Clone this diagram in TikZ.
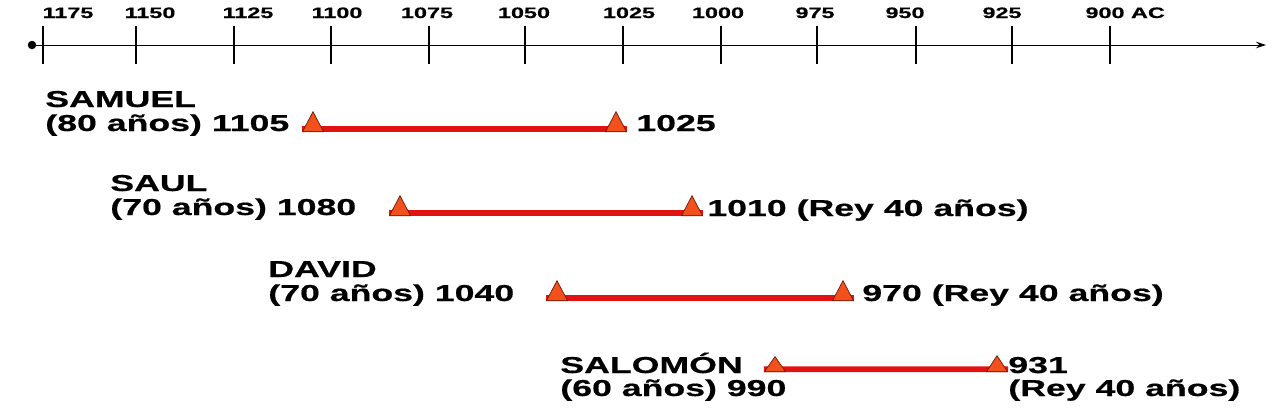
\documentclass[tikz,border=0pt]{standalone}
\usepackage{fontspec}
\setmainfont{Liberation Sans}[FakeStretch=1.55, BoldFeatures={FakeBold=0.6}]
\usepackage{tikz}
\usetikzlibrary{arrows.meta, positioning, shapes.geometric, backgrounds}

\definecolor{barred}{HTML}{E31212}
\definecolor{trifill}{HTML}{F2501C}
\definecolor{triedge}{HTML}{6E1A06}

\tikzset{
  yearlbl/.style={font=\fontsize{8.6}{10}\selectfont\bfseries, anchor=base, inner sep=0pt},
  namelbl/.style={font=\fontsize{13.1}{15}\selectfont\bfseries, anchor=base west, inner sep=0pt},
  reign/.style={isosceles triangle, shape border rotate=90, isosceles triangle stretches,
    minimum width=0.42cm, minimum height=0.4cm, inner sep=0pt, anchor=south,
    fill=trifill, draw=triedge, line width=0.4pt},
  reignbar/.style={draw=barred, line width=0.115cm},
  tick/.style={line width=1.1pt},
}

\begin{document}
\begin{tikzpicture}[x=0.02cm, y=-0.02cm]
    \useasboundingbox (0,0) rectangle (1280,416);

    % Timeline axis
    \coordinate (axL) at (32,45);
    \coordinate (axR) at (1266,45);
    \fill (axL) circle (0.085cm);
    \draw[line width=0.5pt, -{Stealth[length=0.2cm, width=0.13cm]}] (axL) -- (axR);

    % Years
    \foreach \yr/\tx/\lx in {1175/43/68, 1150/136/150, 1125/234/248, 1100/331/337,
        1075/429/427, 1050/525/524, 1025/623/629, 1000/721/718, 975/817/815,
        950/916/905, 925/1012/1002} {
        \draw[tick] (\tx,26) -- (\tx,64);
        \node[yearlbl] (yr\yr) at (\lx,18) {\yr};
    }
    \draw[tick] (1110,26) -- (1110,64);
    \node[yearlbl] (yr900) at (1105,18) {900\rlap{ AC}};

    % Samuel
    \node[namelbl] (samName) at (45,107) {SAMUEL};
    \node[namelbl] (samAge) at (45,131) {(80 años) 1105};
    \node[reign] (samA) at (313,132) {};
    \node[reign] (samB) at (616,132) {};
    \node[namelbl] (samEnd) at (636,131) {1025};

    % Saul
    \node[namelbl] (saulName) at (110,191) {SAUL};
    \node[namelbl] (saulAge) at (110,215) {(70 años) 1080};
    \node[reign] (saulA) at (400,216) {};
    \node[reign] (saulB) at (692,216) {};
    \node[namelbl] (saulEnd) at (707,216) {1010 (Rey 40 años)};

    % David
    \node[namelbl] (davName) at (268,277) {DAVID};
    \node[namelbl] (davAge) at (268,301) {(70 años) 1040};
    \node[reign] (davA) at (557,301) {};
    \node[reign] (davB) at (843,301) {};
    \node[namelbl] (davEnd) at (862,301) {970 (Rey 40 años)};

    % Salomon
    \node[namelbl] (salName) at (560,373) {SALOMÓN};
    \node[namelbl] (salAge) at (560,396) {(60 años) 990};
    \node[reign, minimum height=0.3cm] (salA) at (775,372) {};
    \node[reign, minimum height=0.32cm] (salB) at (997,372) {};
    \node[namelbl] (salEnd) at (1008,373) {931};
    \node[namelbl] (salRey) at (1008,396) {(Rey 40 años)};

    % Bars behind the markers
    \begin{scope}[on background layer]
        \foreach \p in {sam, saul, dav, sal}
            \draw[reignbar] ([yshift=0.057cm]\p A.left corner) -- ([yshift=0.057cm]\p B.right corner);
    \end{scope}
\end{tikzpicture}
\end{document}
